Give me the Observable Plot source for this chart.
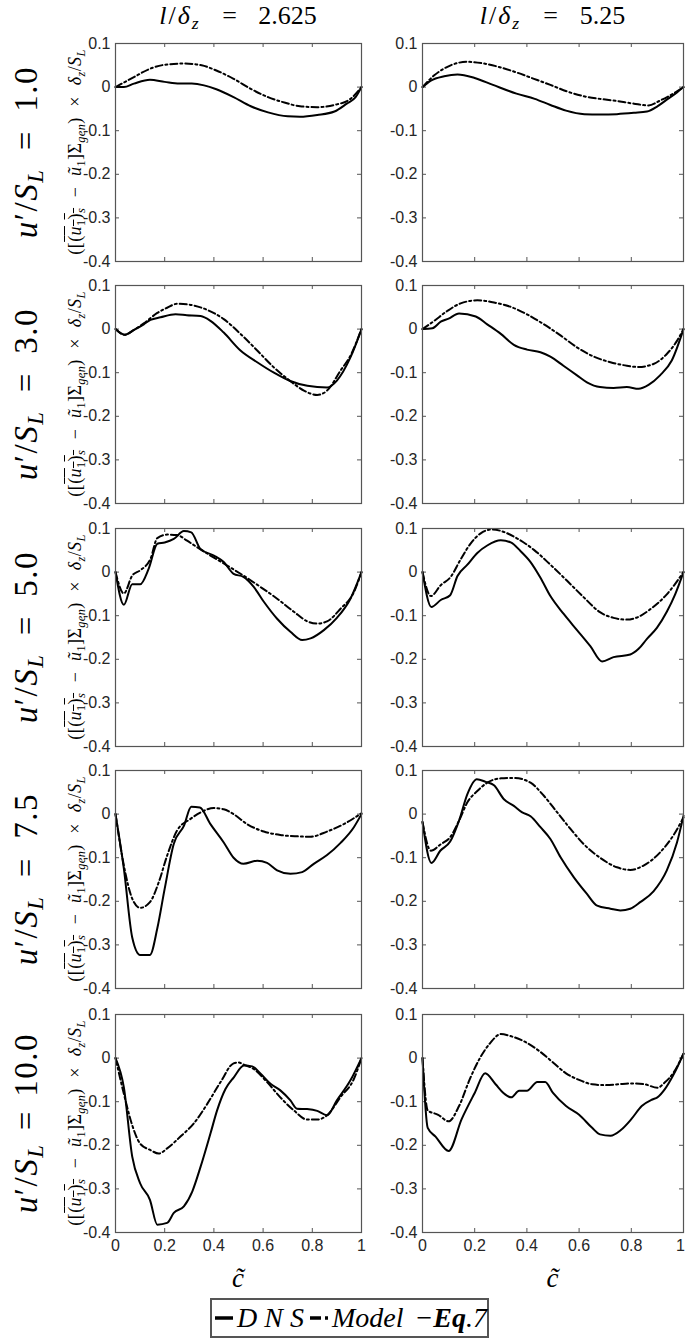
<!DOCTYPE html>
<html><head><meta charset="utf-8">
<script src="https://cdn.jsdelivr.net/npm/d3@7"></script>
<script src="https://cdn.jsdelivr.net/npm/@observablehq/plot@0.6"></script>
<style>
body{margin:0;background:#fff;}
#fig{position:relative;width:685px;height:1340px;overflow:hidden;font-family:"Liberation Serif","Times New Roman",serif;color:#000;}
.t{position:absolute;white-space:nowrap;line-height:1;}
.t sub{font-size:0.68em;vertical-align:-0.3em;line-height:0;}
.sp{display:inline-block;}
</style></head><body><div id="fig"></div>
<script>
// ---- tick labels & categories ----
const cTicks = [0, 0.2, 0.4, 0.6, 0.8, 1];
const yTicks = [0.1, 0, -0.1, -0.2, -0.3, -0.4];
const columnRatios = ["2.625", "5.25"];
const rowIntensities = ["1.0", "3.0", "5.0", "7.5", "10.0"];
const seriesNames = ["DNS", "Model −Eq.7"];

// ---- series values: [c~, value] ----
const dnsR1a = [[0,0],[0.034,0],[0.075,0.008],[0.14,0.017],[0.2,0.012],[0.26,0.008],[0.31,0.008],[0.36,0.004],[0.41,-0.005],[0.48,-0.023],[0.55,-0.044],[0.62,-0.058],[0.7,-0.067],[0.75,-0.068],[0.82,-0.064],[0.89,-0.056],[0.94,-0.038],[0.976,-0.023],[1,0]];
const modR1a = [[0,0],[0.075,0.023],[0.14,0.042],[0.21,0.052],[0.28,0.054],[0.35,0.05],[0.41,0.038],[0.48,0.019],[0.55,-0.004],[0.62,-0.023],[0.69,-0.036],[0.75,-0.044],[0.82,-0.046],[0.89,-0.041],[0.955,-0.027],[1,0]];
const dnsR1b = [[0,0],[0.032,0.015],[0.083,0.025],[0.134,0.029],[0.2,0.021],[0.27,0.005],[0.36,-0.015],[0.43,-0.027],[0.49,-0.041],[0.55,-0.054],[0.62,-0.062],[0.68,-0.063],[0.745,-0.062],[0.81,-0.059],[0.86,-0.056],[0.9,-0.044],[0.94,-0.027],[0.975,-0.012],[1,0]];
const modR1b = [[0,0],[0.045,0.027],[0.108,0.05],[0.17,0.058],[0.236,0.054],[0.3,0.045],[0.363,0.033],[0.427,0.019],[0.49,0.005],[0.554,-0.01],[0.618,-0.021],[0.68,-0.027],[0.745,-0.032],[0.81,-0.038],[0.866,-0.042],[0.91,-0.031],[0.96,-0.015],[1,0]];
const dnsR2a = [[0,0],[0.037,-0.013],[0.075,-0.002],[0.115,0.011],[0.142,0.021],[0.183,0.027],[0.244,0.034],[0.29,0.032],[0.346,0.03],[0.386,0.019],[0.44,-0.008],[0.508,-0.049],[0.576,-0.076],[0.644,-0.1],[0.71,-0.119],[0.78,-0.13],[0.86,-0.134],[0.9,-0.118],[0.955,-0.065],[1,0]];
const modR2a = [[0,0],[0.037,-0.013],[0.075,-0.002],[0.115,0.013],[0.17,0.037],[0.21,0.049],[0.25,0.058],[0.3,0.056],[0.373,0.044],[0.44,0.023],[0.508,-0.011],[0.576,-0.049],[0.644,-0.088],[0.71,-0.119],[0.766,-0.141],[0.82,-0.151],[0.86,-0.141],[0.915,-0.095],[0.955,-0.061],[1,0]];
const dnsR2b = [[0,0],[0.038,0.002],[0.07,0.017],[0.1,0.024],[0.14,0.036],[0.204,0.029],[0.248,0.011],[0.3,-0.011],[0.35,-0.036],[0.4,-0.047],[0.452,-0.053],[0.49,-0.063],[0.54,-0.084],[0.592,-0.106],[0.63,-0.122],[0.68,-0.133],[0.732,-0.135],[0.783,-0.133],[0.828,-0.137],[0.866,-0.128],[0.91,-0.106],[0.955,-0.072],[1,0]];
const modR2b = [[0,0],[0.045,0.019],[0.096,0.042],[0.146,0.059],[0.21,0.066],[0.274,0.061],[0.338,0.051],[0.4,0.034],[0.465,0.011],[0.53,-0.015],[0.592,-0.042],[0.656,-0.063],[0.72,-0.076],[0.783,-0.084],[0.828,-0.087],[0.885,-0.08],[0.936,-0.057],[0.975,-0.027],[1,0]];
const dnsR3a = [[0,0],[0.034,-0.075],[0.068,-0.028],[0.1,-0.028],[0.135,0.008],[0.17,0.065],[0.2,0.068],[0.237,0.076],[0.278,0.094],[0.308,0.091],[0.345,0.053],[0.4,0.038],[0.44,0.023],[0.48,-0.004],[0.52,-0.011],[0.562,-0.034],[0.603,-0.068],[0.657,-0.107],[0.711,-0.137],[0.759,-0.156],[0.793,-0.152],[0.847,-0.133],[0.9,-0.105],[0.955,-0.061],[1,0]];
const modR3a = [[0,0],[0.034,-0.049],[0.068,-0.008],[0.1,0.004],[0.142,0.03],[0.17,0.078],[0.21,0.086],[0.25,0.085],[0.291,0.072],[0.332,0.057],[0.386,0.038],[0.454,0.015],[0.52,-0.008],[0.589,-0.034],[0.657,-0.061],[0.725,-0.091],[0.78,-0.113],[0.82,-0.118],[0.86,-0.113],[0.915,-0.084],[0.969,-0.046],[1,0]];
const dnsR3b = [[0,0],[0.034,-0.08],[0.07,-0.064],[0.106,-0.053],[0.134,-0.009],[0.172,0.017],[0.21,0.044],[0.248,0.061],[0.3,0.073],[0.338,0.068],[0.376,0.048],[0.414,0.023],[0.452,-0.013],[0.49,-0.055],[0.541,-0.096],[0.592,-0.133],[0.643,-0.17],[0.688,-0.205],[0.732,-0.195],[0.796,-0.189],[0.828,-0.176],[0.86,-0.153],[0.898,-0.128],[0.936,-0.091],[0.968,-0.051],[1,0]];
const modR3b = [[0,0],[0.032,-0.055],[0.07,-0.03],[0.108,-0.011],[0.146,0.029],[0.185,0.066],[0.223,0.089],[0.268,0.098],[0.312,0.092],[0.363,0.077],[0.427,0.051],[0.49,0.017],[0.554,-0.02],[0.618,-0.058],[0.68,-0.092],[0.732,-0.105],[0.783,-0.109],[0.822,-0.104],[0.873,-0.085],[0.936,-0.051],[1,0]];
const dnsR4a = [[0,0],[0.034,-0.125],[0.068,-0.283],[0.1,-0.323],[0.14,-0.323],[0.17,-0.262],[0.2,-0.171],[0.237,-0.068],[0.278,-0.027],[0.308,0.017],[0.343,0.015],[0.386,-0.023],[0.44,-0.065],[0.48,-0.1],[0.52,-0.114],[0.576,-0.107],[0.616,-0.112],[0.657,-0.129],[0.711,-0.137],[0.759,-0.133],[0.806,-0.114],[0.86,-0.094],[0.915,-0.066],[0.969,-0.03],[1,0]];
const modR4a = [[0,0],[0.034,-0.118],[0.068,-0.194],[0.1,-0.215],[0.14,-0.202],[0.176,-0.156],[0.21,-0.095],[0.25,-0.038],[0.305,-0.011],[0.346,0.004],[0.4,0.014],[0.44,0.011],[0.48,0],[0.535,-0.023],[0.603,-0.04],[0.67,-0.048],[0.74,-0.051],[0.793,-0.052],[0.86,-0.04],[0.928,-0.023],[1,0.002]];
const dnsR4b = [[0,-0.018],[0.034,-0.112],[0.068,-0.084],[0.106,-0.063],[0.14,-0.015],[0.172,0.046],[0.208,0.08],[0.242,0.074],[0.274,0.066],[0.312,0.034],[0.35,0.019],[0.382,0.004],[0.414,-0.005],[0.452,-0.03],[0.49,-0.057],[0.529,-0.099],[0.58,-0.145],[0.63,-0.183],[0.669,-0.21],[0.72,-0.217],[0.758,-0.221],[0.796,-0.217],[0.834,-0.202],[0.885,-0.177],[0.936,-0.129],[0.975,-0.065],[1,-0.004]];
const modR4b = [[0,-0.018],[0.032,-0.084],[0.07,-0.069],[0.106,-0.053],[0.14,-0.015],[0.172,0.027],[0.21,0.053],[0.248,0.072],[0.3,0.082],[0.35,0.083],[0.414,0.072],[0.465,0.042],[0.516,0.004],[0.567,-0.034],[0.618,-0.069],[0.68,-0.1],[0.745,-0.122],[0.796,-0.128],[0.847,-0.118],[0.91,-0.088],[0.96,-0.05],[1,-0.008]];
const dnsR5a = [[0,0],[0.034,-0.067],[0.068,-0.226],[0.1,-0.287],[0.14,-0.325],[0.17,-0.382],[0.21,-0.378],[0.237,-0.355],[0.278,-0.34],[0.312,-0.306],[0.346,-0.249],[0.386,-0.173],[0.413,-0.12],[0.447,-0.071],[0.481,-0.044],[0.522,-0.017],[0.556,-0.019],[0.59,-0.036],[0.63,-0.059],[0.67,-0.074],[0.711,-0.097],[0.738,-0.116],[0.779,-0.117],[0.82,-0.121],[0.86,-0.131],[0.9,-0.097],[0.955,-0.051],[1,0]];
const modR5a = [[0,0],[0.034,-0.082],[0.068,-0.154],[0.1,-0.196],[0.142,-0.211],[0.176,-0.219],[0.21,-0.207],[0.264,-0.18],[0.318,-0.15],[0.373,-0.105],[0.427,-0.055],[0.48,-0.012],[0.5,-0.01],[0.522,-0.015],[0.562,-0.025],[0.616,-0.055],[0.67,-0.09],[0.725,-0.12],[0.779,-0.141],[0.82,-0.141],[0.86,-0.131],[0.915,-0.089],[0.969,-0.048],[1,0]];
const dnsR5b = [[0,0],[0.02,-0.16],[0.05,-0.18],[0.1,-0.213],[0.15,-0.14],[0.2,-0.08],[0.24,-0.035],[0.28,-0.06],[0.31,-0.08],[0.34,-0.09],[0.37,-0.075],[0.4,-0.075],[0.44,-0.055],[0.47,-0.055],[0.5,-0.08],[0.55,-0.11],[0.6,-0.13],[0.65,-0.16],[0.68,-0.175],[0.72,-0.178],[0.76,-0.165],[0.8,-0.14],[0.84,-0.11],[0.88,-0.095],[0.9,-0.09],[0.93,-0.07],[0.96,-0.04],[1,0.01]];
const modR5b = [[0,0],[0.02,-0.12],[0.06,-0.13],[0.1,-0.145],[0.14,-0.11],[0.18,-0.05],[0.22,0],[0.26,0.035],[0.3,0.055],[0.34,0.05],[0.4,0.035],[0.45,0.015],[0.5,-0.01],[0.55,-0.035],[0.6,-0.05],[0.65,-0.06],[0.7,-0.062],[0.75,-0.06],[0.8,-0.058],[0.85,-0.06],[0.9,-0.068],[0.93,-0.055],[0.96,-0.035],[1,0.01]];

const dnsSeries = [[dnsR1a,dnsR1b],[dnsR2a,dnsR2b],[dnsR3a,dnsR3b],[dnsR4a,dnsR4b],[dnsR5a,dnsR5b]];
const modelSeries = [[modR1a,modR1b],[modR2a,modR2b],[modR3a,modR3b],[modR4a,modR4b],[modR5a,modR5b]];

// ---- layout ----
const fig = document.getElementById("fig");
const colLeft = [115, 422], colW = [246, 261];
const rowTop = [43, 285, 528, 770, 1014], panelH = 218;
const ML = 40, MR = 6, MT = 10, MB = 10;
const frameColor = "#555";
const modelDash = "7,3,2,3";

// places a text; extra width up to `target` goes to the spacing around operators (.sp)
function addText(html, x, y, size, rotate, target, letter) {
  const d = document.createElement("div");
  d.className = "t";
  d.innerHTML = html;
  d.style.left = x + "px"; d.style.top = y + "px";
  d.style.fontSize = size + "px";
  if (letter) d.style.letterSpacing = letter + "px";
  d.style.transform = "translate(-50%,-50%)" + (rotate ? " rotate(-90deg)" : "");
  fig.appendChild(d);
  const sps = d.querySelectorAll(".sp");
  if (target && sps.length) {
    const extra = Math.max(0, target - d.offsetWidth);
    const m = extra / (2 * sps.length);
    sps.forEach(s => { s.style.marginLeft = m + "px"; s.style.marginRight = m + "px"; });
  }
  return d;
}

for (let r = 0; r < 5; r++) {
  for (let c = 0; c < 2; c++) {
    const W = colW[c], last = r === 4;
    const mb = last ? 34 : MB;
    const marks = [
      Plot.tickY(yTicks, {y: d => d, insetRight: W - 4, stroke: frameColor}),
      Plot.tickY(yTicks, {y: d => d, insetLeft: W - 4, stroke: frameColor}),
      Plot.tickX(cTicks, {x: d => d, insetTop: panelH - 4, stroke: frameColor}),
      Plot.tickX(cTicks, {x: d => d, insetBottom: panelH - 4, stroke: frameColor}),
      Plot.axisY(yTicks, {anchor: "left", tickSize: 0, tickPadding: 5, tickFormat: d => String(d), fontSize: 16, label: null}),
      Plot.line(dnsSeries[r][c], {x: "0", y: "1", stroke: "black", strokeWidth: 2, curve: "monotone-x"}),
      Plot.line(modelSeries[r][c], {x: "0", y: "1", stroke: "black", strokeWidth: 2, strokeDasharray: modelDash, curve: "monotone-x"}),
      Plot.frame({stroke: frameColor, strokeWidth: 1.2})
    ];
    if (last) {
      const inner = c === 1 ? cTicks.slice(0, -1) : cTicks;
      marks.push(Plot.axisX(inner, {anchor: "bottom", tickSize: 0, tickPadding: 7, tickFormat: d => String(d), fontSize: 16, label: null}));
      if (c === 1) marks.push(Plot.axisX(cTicks.slice(-1), {anchor: "bottom", tickSize: 0, tickPadding: 7, dx: -3, tickFormat: d => String(d), fontSize: 16, label: null}));
    }
    const chart = Plot.plot({
      width: W + ML + MR, height: panelH + MT + mb,
      marginLeft: ML, marginRight: MR, marginTop: MT, marginBottom: mb,
      style: {background: "transparent", overflow: "visible", fontFamily: "'Liberation Sans', Arial, sans-serif", color: "#262626"},
      x: {domain: [0, 1], axis: last ? undefined : null},
      y: {domain: [-0.4, 0.1]},
      marks
    });
    chart.style.position = "absolute";
    chart.style.left = (colLeft[c] - ML) + "px";
    chart.style.top = (rowTop[r] - MT) + "px";
    fig.appendChild(chart);
  }
  const cy = rowTop[r] + panelH / 2;
  addText(`<i>u</i>′/<i>S</i><sub><i>L</i></sub><span class="sp">=</span>${rowIntensities[r]}`, 26, cy, 33, true, r === 4 ? 180 : 172, 1.5);
  addText(`([<span style="text-decoration:overline">(<i>u</i><sub>1</sub>)<sub><i>s</i></sub></span><span class="sp">−</span><i>ũ</i><sub>1</sub>]Σ<sub><i>gen</i></sub>)<span class="sp">×</span><i>δ</i><sub><i>z</i></sub>/<i>S</i><sub><i>L</i></sub>`, 75, cy, 18, true, 205, 0.4);
}
for (let c = 0; c < 2; c++) {
  const cx = colLeft[c] + colW[c] / 2;
  addText(`<span style="letter-spacing:2px"><i>l</i>/<i>δ</i><sub><i>z</i></sub></span><span class="sp">=</span>${columnRatios[c]}`, cx, 16, 26, false, c === 0 ? 158 : 146);
  addText(`<i>c̃</i>`, cx, 1278, 27, false);
}

// ---- legend ----
const leg = document.createElement("div");
leg.style.cssText = "position:absolute;left:210px;top:1298px;width:279px;height:40px;box-sizing:border-box;border:2px solid #555;display:flex;align-items:center;padding-left:3px;font-size:28px;font-style:italic;white-space:nowrap;";
leg.innerHTML = `<svg width="27" height="10"><line x1="0" y1="5" x2="27" y2="5" stroke="black" stroke-width="3.5"/></svg><span style="margin-left:4px">${seriesNames[0].replace("DNS","D N S")}</span><svg width="27" height="10" style="margin-left:6px"><line x1="0" y1="5" x2="27" y2="5" stroke="black" stroke-width="3.5" stroke-dasharray="11,4,5,4"/></svg><span style="margin-left:4px">Model <span style="margin-left:4px">−<b>Eq</b>.7</span></span>`;
fig.appendChild(leg);
</script></body></html>
